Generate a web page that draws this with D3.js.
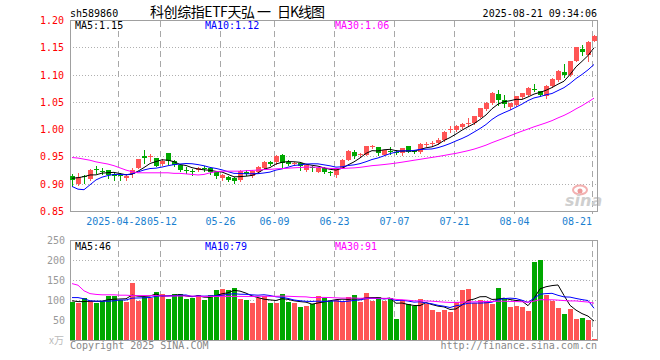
<!DOCTYPE html>
<html><head><meta charset="utf-8">
<script src="https://cdn.jsdelivr.net/npm/d3@7/dist/d3.min.js"></script>
<style>body{margin:0;background:#fff}svg{display:block}</style>
</head><body>
<svg id="c" width="660" height="360"></svg>
<script>
// ---------- data ----------
const dates = ["04-16","04-17","04-18","04-21","04-22","04-23","04-24","04-25","04-28","04-29","04-30",
"05-06","05-07","05-08","05-09","05-12","05-13","05-14","05-15","05-16","05-19","05-20","05-21","05-22","05-23","05-26","05-27","05-28","05-29","05-30",
"06-03","06-04","06-05","06-06","06-09","06-10","06-11","06-12","06-13","06-16","06-17","06-18","06-19","06-20","06-23","06-24","06-25","06-26","06-27","06-30",
"07-01","07-02","07-03","07-04","07-07","07-08","07-09","07-10","07-11","07-14","07-15","07-16","07-17","07-18","07-21","07-22","07-23","07-24","07-25","07-28","07-29","07-30","07-31",
"08-01","08-04","08-05","08-06","08-07","08-08","08-11","08-12","08-13","08-14","08-15","08-18","08-19","08-20","08-21"];

const open  = [0.914,0.900,0.914,0.908,0.927,0.924,0.925,0.917,0.916,0.911,0.918,0.929,0.950,0.949,0.947,0.937,0.956,0.941,0.934,0.926,
0.924,0.925,0.929,0.928,0.921,0.910,0.912,0.911,0.907,0.922,0.914,0.921,0.928,0.939,0.939,0.953,0.939,0.936,0.938,0.926,
0.930,0.922,0.929,0.921,0.916,0.929,0.944,0.959,0.953,0.953,0.968,0.967,0.953,0.960,0.958,0.956,0.969,0.960,0.959,0.972,
0.973,0.974,0.980,0.999,0.999,1.004,1.010,1.011,1.023,1.036,1.047,1.064,1.053,1.040,1.044,1.058,1.063,1.074,1.069,1.061,
1.079,1.090,1.104,1.099,1.125,1.147,1.136,1.162];
const high  = [0.917,0.919,0.916,0.927,0.932,0.928,0.926,0.921,0.920,0.918,0.929,0.946,0.962,0.954,0.948,0.945,0.957,0.943,0.935,0.930,
0.927,0.930,0.932,0.931,0.923,0.918,0.914,0.912,0.925,0.925,0.925,0.932,0.941,0.941,0.952,0.954,0.943,0.940,0.939,0.936,
0.933,0.930,0.931,0.923,0.929,0.945,0.962,0.961,0.957,0.970,0.971,0.968,0.962,0.968,0.961,0.966,0.970,0.962,0.974,0.976,
0.978,0.983,0.996,1.005,1.007,1.012,1.020,1.025,1.039,1.049,1.068,1.071,1.063,1.048,1.061,1.067,1.077,1.083,1.070,1.080,
1.093,1.108,1.120,1.125,1.151,1.155,1.161,1.172];
const low   = [0.895,0.897,0.902,0.906,0.919,0.917,0.911,0.906,0.907,0.907,0.912,0.928,0.938,0.942,0.932,0.935,0.937,0.932,0.923,0.919,
0.916,0.923,0.923,0.918,0.910,0.907,0.905,0.902,0.905,0.916,0.913,0.920,0.927,0.935,0.937,0.929,0.935,0.934,0.926,0.924,
0.923,0.921,0.920,0.916,0.912,0.928,0.943,0.948,0.951,0.952,0.965,0.952,0.952,0.954,0.954,0.953,0.958,0.957,0.957,0.969,
0.970,0.973,0.979,0.995,0.997,1.003,1.005,1.010,1.022,1.035,1.046,1.044,1.040,1.037,1.043,1.057,1.062,1.069,1.061,1.057,
1.078,1.089,1.095,1.098,1.124,1.136,1.124,1.161];
const close = [0.906,0.912,0.912,0.925,0.926,0.922,0.916,0.915,0.914,0.915,0.926,0.945,0.948,0.951,0.933,0.942,0.941,0.935,0.925,0.924,
0.922,0.929,0.927,0.921,0.914,0.916,0.907,0.905,0.923,0.918,0.923,0.930,0.940,0.937,0.951,0.938,0.937,0.938,0.932,0.934,
0.928,0.929,0.922,0.919,0.927,0.944,0.960,0.950,0.955,0.969,0.969,0.957,0.961,0.959,0.957,0.965,0.959,0.959,0.973,0.973,
0.974,0.981,0.995,1.000,1.005,1.010,1.011,1.024,1.038,1.047,1.067,1.053,1.046,1.047,1.060,1.066,1.076,1.072,1.063,1.079,
1.091,1.107,1.099,1.124,1.150,1.141,1.160,1.171];
const volume = [96,93,104,97.5,93,97.5,111,111,100,96,143,97.5,108,106,121,115,102.5,115,115,102.5,
106,112.5,100,112.5,125,127.5,125,131,102.5,100,93,104,111,93,93,115,96,93,83,86,
90,111,106,97.5,100,96,108,112.5,94,118,97.5,108,97.5,104,52.5,100,90,85,102.5,90,
75,71,75,71,96,125,127.5,92,100,97.5,90,131,104,83,86,83,73,196,201,112.5,
97.5,81,65,77.5,52.5,54,50,2.5];

// moving-average values before a full window of visible days exists
const ma5Head  = [0.910,0.911,0.913,0.916];
const ma10Head = [0.895,0.890,0.889,0.898,0.907,0.912,0.915,0.917,0.917];
const ma30Head = [0.948,0.947,0.945,0.943,0.940,0.938,0.936,0.933,0.929,0.925,0.922,0.920,0.920,0.920,0.920,0.920,0.920,0.919,0.919,0.918,
0.917,0.916,0.917,0.920,0.922,0.923,0.923,0.923,0.923];
const vma5Head  = [98,96,96,97];
const vma10Head = [106,106,103,98,97,97,97,98,100];
const vma30Head = [141,137,123,116,114,113,113,113,112,112,111,111,111,111,111,110,110,110,110,110,110,109,109,109,109,109,109,109,109];

const maNames = ["MA5","MA10","MA30"];
const priceMaText = ["1.15","1.12","1.06"];
const volMaText = ["46","79","91"];
const tickDates  = ["04-28","05-12","05-26","06-09","06-23","07-07","07-21","08-04","08-21"];
const tickLabels = ["2025-04-28","05-12","05-26","06-09","06-23","07-07","07-21","08-04","08-21"];
const priceTicks = [1.20,1.15,1.10,1.05,1.00,0.95,0.90,0.85];
const volTicks = [250,200,150,100,50];
const titleParts = ["科创综指ETF天弘","一","日K线图"];

// ---------- drawing ----------
const svg = d3.select("#c");
const MONO = "'DejaVu Sans Mono', 'Liberation Mono', monospace";
const CJK = "'Noto Sans CJK SC', sans-serif";
const RED = "#ff5555", GREEN = "#00a800";
const maColors = ["#000000","#0000ff","#ff00ff"];
const L = 70, R = 597, T = 20, B = 211, VT = 240, VB = 340;

const x = d3.scaleLinear().domain([0, dates.length - 1]).range([72, 594]);
const y = d3.scaleLinear().domain([0.85, 1.20]).range([B, T]);
const yv = d3.scaleLinear().domain([0, 250]).range([VB, VT]);

function ma(arr, n, head) {
  return arr.map((v, i) => i < n - 1 ? head[i] : d3.mean(arr.slice(i - n + 1, i + 1)));
}
const pMA = [ma(close,5,ma5Head), ma(close,10,ma10Head), ma(close,30,ma30Head)];
const vMA = [ma(volume,5,vma5Head), ma(volume,10,vma10Head), ma(volume,30,vma30Head)];

const gx = tickDates.map(d => Math.round(x(dates.indexOf(d))) - 2 + 0.5);

// grids
const grid = svg.append("g");
priceTicks.slice(1, -1).forEach(p => {
  grid.append("line").attr("x1", L).attr("x2", R).attr("y1", Math.round(y(p)) + 0.5).attr("y2", Math.round(y(p)) + 0.5)
    .attr("stroke", "#b0b0b0").attr("stroke-dasharray", "1,2");
});
volTicks.slice(1).forEach(v => {
  grid.append("line").attr("x1", L).attr("x2", R).attr("y1", Math.round(yv(v)) + 0.5).attr("y2", Math.round(yv(v)) + 0.5)
    .attr("stroke", "#b0b0b0").attr("stroke-dasharray", "1,2");
});
gx.forEach(xx => {
  grid.append("line").attr("x1", xx).attr("x2", xx).attr("y1", T + 1).attr("y2", B + 3)
    .attr("stroke", "#a8a8a8").attr("stroke-dasharray", "6,4");
  grid.append("line").attr("x1", xx).attr("x2", xx).attr("y1", VT + 1).attr("y2", VB)
    .attr("stroke", "#a8a8a8").attr("stroke-dasharray", "6,4");
});

// watermark
const wm = svg.append("g");
wm.append("ellipse").attr("cx", 580).attr("cy", 190).attr("rx", 7).attr("ry", 4.5)
  .attr("fill", "none").attr("stroke", "#f3b0b0").attr("stroke-width", 2);
wm.append("circle").attr("cx", 580).attr("cy", 191).attr("r", 2.5).attr("fill", "#e99");
wm.append("text").attr("x", 565).attr("y", 206).text("sina")
  .attr("font-family", "'DejaVu Sans', sans-serif").attr("font-weight", "bold").attr("font-style", "italic")
  .attr("font-size", 16).attr("fill", "#cfcfcf");

// borders
[[T, B], [VT, VB]].forEach(([t, b]) => {
  svg.append("rect").attr("x", L + 0.5).attr("y", t + 0.5).attr("width", R - L).attr("height", b - t)
    .attr("fill", "none").attr("stroke", "#a0a0a0");
});

// candles
const cg = svg.append("g");
dates.forEach((d, i) => {
  const cx = Math.round(x(i));
  const up = close[i] >= open[i];
  const col = up ? RED : GREEN;
  cg.append("line").attr("x1", cx + 0.5).attr("x2", cx + 0.5)
    .attr("y1", Math.round(y(high[i]))).attr("y2", Math.round(y(low[i])) + 1)
    .attr("stroke", col);
  const yt = Math.round(y(Math.max(open[i], close[i])));
  const yb = Math.round(y(Math.min(open[i], close[i])));
  cg.append("rect").attr("x", cx - 2).attr("y", yt).attr("width", 5).attr("height", Math.max(1, yb - yt))
    .attr("fill", col);
  // volume bar
  const vt = Math.round(yv(volume[i]));
  cg.append("rect").attr("x", cx - 2).attr("y", vt).attr("width", 5).attr("height", Math.max(1, VB - vt))
    .attr("fill", col);
});

// MA lines
pMA.forEach((arr, k) => {
  svg.append("path").datum(arr)
    .attr("d", d3.line().x((v, i) => x(i)).y(v => y(v)))
    .attr("fill", "none").attr("stroke", maColors[k]).attr("stroke-width", 1);
});
vMA.forEach((arr, k) => {
  svg.append("path").datum(arr)
    .attr("d", d3.line().x((v, i) => x(i)).y(v => yv(v)))
    .attr("fill", "none").attr("stroke", maColors[k]).attr("stroke-width", 1);
});

// texts
function txt(xx, yy, s, fill, anchor, size, fam) {
  return svg.append("text").attr("x", xx).attr("y", yy).text(s)
    .attr("fill", fill).attr("text-anchor", anchor || "start")
    .attr("font-size", size || 10).attr("font-family", fam || MONO);
}
txt(70, 17, "sh589860", "#000");
txt(150, 17, titleParts[0], "#000", "start", 14, CJK).attr("textLength", 105).attr("lengthAdjust", "spacing");
txt(257, 17, titleParts[1], "#000", "start", 14, CJK);
txt(277, 17, titleParts[2], "#000", "start", 14, CJK).attr("textLength", 48).attr("lengthAdjust", "spacing");
txt(597, 17, "2025-08-21 09:34:06", "#000", "end");

const maX = [75, 205, 335];
maNames.forEach((n, k) => {
  txt(maX[k], 29, n + ":" + priceMaText[k], maColors[k]);
  txt(maX[k], 250, n + ":" + volMaText[k], maColors[k]);
});

priceTicks.forEach(p => txt(64, y(p) + 4, p.toFixed(2), "#ff0000", "end"));
volTicks.forEach(v => txt(65, yv(v) + 4, String(v), "#999", "end"));
txt(49, 344, "x万", "#bbb", "start", 10, CJK);

tickLabels.forEach((s, k) => {
  const last = k === tickLabels.length - 1;
  let xx = gx[k], anchor = "middle";
  if (k === 0) { xx = gx[1] - 14; anchor = "end"; }
  if (k === 1) { xx = gx[1] - 13.5; anchor = "start"; }
  if (last) { xx = 592; anchor = "end"; }
  txt(xx, 225, s, "#1a7fd0", anchor);
});

txt(70, 349, "Copyright 2025 SINA.COM", "#888");
txt(597, 349, "http://finance.sina.com.cn", "#888", "end");
</script>
</body></html>
